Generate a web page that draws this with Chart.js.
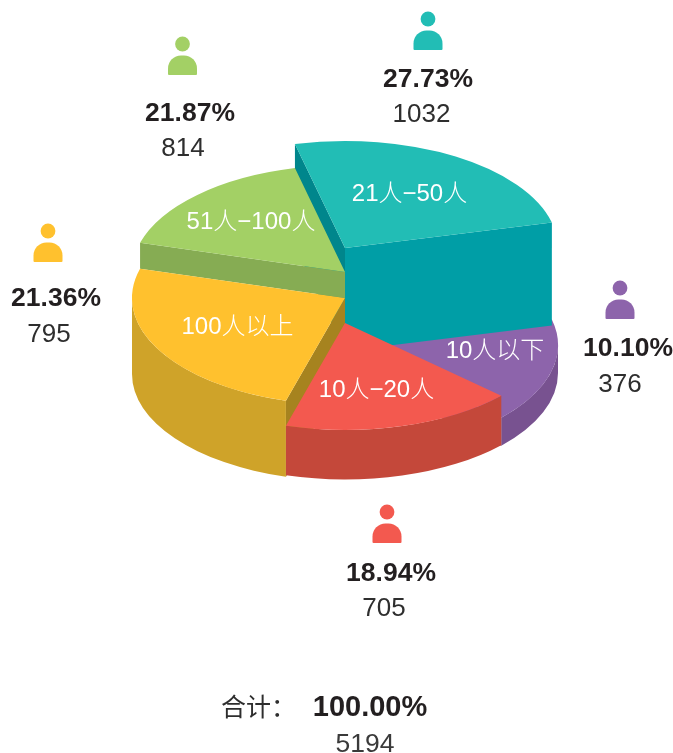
<!DOCTYPE html>
<html>
<head>
<meta charset="utf-8">
<style>
html,body{margin:0;padding:0;background:#fff;overflow:hidden}
canvas{display:block}
</style>
<script src="https://cdn.jsdelivr.net/npm/chart.js@4"></script>
</head>
<body>
<canvas id="c" width="673" height="753"></canvas>
<script>
// Categories and printed figures, clockwise from the top slice.
const categories = ['21人−50人', '10人以下', '10人−20人', '100人以上', '51人−100人'];
const percents = ['27.73%', '10.10%', '18.94%', '21.36%', '21.87%'];
const counts = [1032, 376, 705, 795, 814];
const totalLabel = '合计：';
const totalPercent = '100.00%';
const totalCount = 5194;
// The reference's slices are not drawn in proportion to its printed figures,
// so the slice sizes are the angles (degrees).
const drawnAngles = [89.8, 56.6, 63.3, 89.7, 60.6];

const FONT = '"Liberation Sans","Noto Sans CJK SC",sans-serif';
const topColors = ['#22BDB5', '#8D64AB', '#F3594F', '#FFC12E', '#A3D065'];
const sideColors = ['#009EA6', '#785290', '#C4483A', '#CFA329', '#86AC53'];
const startFaceColors = ['#00868C', '#785290', '#C4483A', '#A6831F', '#86AC53'];
const endFaceColors = ['#009EA6', '#785290', '#C4483A', '#A6831F', '#86AC53'];
const CX = 345, RX = 213, RY = 107;
const topY = [248, 345, 323, 298, 272];
const depth = [103, 28, 49.5, 76, 26];
const paintOrder = [1, 0, 4, 3, 2];
const sliceLabelPos = [[409.5, 201], [495, 358], [376.5, 397], [237.5, 334], [251, 229]];
const calloutPos = [
  {icon: 428, iconY: 19, pct: 428, pctY: 87, num: 421.5, numY: 122},
  {icon: 620, iconY: 288, pct: 628, pctY: 356, num: 620, numY: 392},
  {icon: 387, iconY: 512, pct: 391, pctY: 581, num: 384, numY: 616},
  {icon: 48, iconY: 231, pct: 56, pctY: 306, num: 49, numY: 342},
  {icon: 182.5, iconY: 44, pct: 190, pctY: 121, num: 183, numY: 156}
];

function radialFace(ctx, i, ang, color) {
  const x = CX + RX * Math.cos(ang), y = topY[i] + RY * Math.sin(ang);
  ctx.fillStyle = color;
  ctx.beginPath();
  ctx.moveTo(CX, topY[i]);
  ctx.lineTo(x, y);
  ctx.lineTo(x, y + depth[i]);
  ctx.lineTo(CX, topY[i] + depth[i]);
  ctx.closePath();
  ctx.fill();
}
function outerWall(ctx, i, a0, a1) {
  let s = a0, e = a1;
  // normalise so that the front half of the ellipse is 0..PI
  const tau = Math.PI * 2;
  while (e < 0) { s += tau; e += tau; }
  while (s >= tau) { s -= tau; e -= tau; }
  const from = Math.max(s, 0), to = Math.min(e, Math.PI);
  if (to <= from) return;
  ctx.fillStyle = sideColors[i];
  ctx.beginPath();
  ctx.ellipse(CX, topY[i], RX, RY, 0, from, to, false);
  ctx.ellipse(CX, topY[i] + depth[i], RX, RY, 0, to, from, true);
  ctx.closePath();
  ctx.fill();
}
function person(ctx, x, y, color) {
  ctx.fillStyle = color;
  ctx.beginPath();
  ctx.arc(x, y, 7.4, 0, Math.PI * 2);
  ctx.fill();
  ctx.beginPath();
  ctx.roundRect(x - 14.5, y + 11.5, 29, 19.5, [13, 13, 1, 1]);
  ctx.fill();
}
function text(ctx, str, x, y, font, color, align) {
  ctx.font = font;
  ctx.fillStyle = color;
  ctx.textAlign = align || 'center';
  ctx.textBaseline = 'alphabetic';
  ctx.fillText(str, x, y);
}

const pie3d = {
  id: 'pie3d',
  beforeDatasetsDraw(chart) {
    const ctx = chart.ctx;
    const arcs = chart.getDatasetMeta(0).data;
    paintOrder.forEach(i => {
      const arc = arcs[i];
      const a0 = arc.startAngle, a1 = arc.endAngle;
      if (Math.sin(a0 - Math.PI / 2) > 0) radialFace(ctx, i, a0, startFaceColors[i]);
      if (Math.sin(a1 + Math.PI / 2) > 0) radialFace(ctx, i, a1, endFaceColors[i]);
      outerWall(ctx, i, a0, a1);
      ctx.save();
      ctx.translate(CX, topY[i]);
      ctx.scale(1, RY / RX);
      ctx.translate(-arc.x, -arc.y);
      arc.draw(ctx);
      ctx.restore();
    });
    return false;
  },
  afterDraw(chart) {
    const ctx = chart.ctx;
    categories.forEach((c, i) => {
      const p = sliceLabelPos[i];
      text(ctx, c, p[0], p[1], '300 24px ' + FONT, '#ffffff');
      const q = calloutPos[i];
      person(ctx, q.icon, q.iconY, topColors[i]);
      text(ctx, percents[i], q.pct, q.pctY, 'bold 26.5px ' + FONT, '#231F20');
      text(ctx, String(counts[i]), q.num, q.numY, '26px ' + FONT, '#2e2e2e');
    });
    text(ctx, totalLabel, 221, 716, '25px ' + FONT, '#2e2e2e', 'left');
    text(ctx, totalPercent, 370, 716, 'bold 29px ' + FONT, '#231F20');
    text(ctx, String(totalCount), 365, 752, '26.5px ' + FONT, '#3a3a3a');
  }
};

new Chart(document.getElementById('c'), {
  type: 'pie',
  data: {
    labels: categories,
    datasets: [{
      data: drawnAngles,
      backgroundColor: topColors,
      borderWidth: 0,
      radius: RX
    }]
  },
  options: {
    responsive: false,
    animation: false,
    rotation: -13.6,
    layout: {padding: 0},
    plugins: {legend: {display: false}, tooltip: {enabled: false}}
  },
  plugins: [pie3d]
});
</script>
</body>
</html>
